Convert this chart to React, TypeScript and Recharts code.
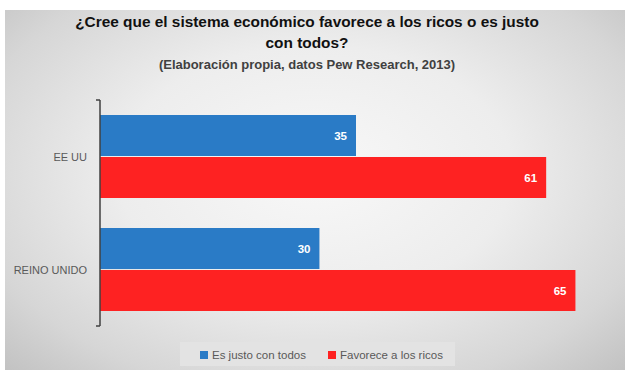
import { Bar, BarChart, LabelList, Legend, XAxis, YAxis } from "recharts";

// Pew Research 2013: opinión sobre el sistema económico
const paises = ["EE UU", "REINO UNIDO"];
const justoConTodos = [35, 30];
const favoreceRicos = [61, 65];

const BLUE = "#2a7bc6";
const RED = "#fe2222";
const FONT = "'Liberation Sans', Arial, sans-serif";

const data = paises.map((pais, i) => ({
  pais,
  justo: justoConTodos[i],
  ricos: favoreceRicos[i],
}));

// etiqueta del eje sin salto de línea
const PaisTick = ({ x, y, payload }: any) => (
  <text
    x={x}
    y={y}
    dy={4}
    textAnchor="end"
    fontSize={11}
    fill="#595959"
    fontFamily={FONT}
  >
    {payload.value}
  </text>
);

export default function App() {
  return (
    <div
      style={{
        position: "absolute",
        left: 0,
        top: 0,
        width: 625,
        height: 370,
        background: "#fff",
        fontFamily: FONT,
      }}
    >
      <div
        style={{
          position: "absolute",
          left: 5,
          top: 10,
          width: 620,
          height: 360,
          background:
            "radial-gradient(ellipse at 50% 45%, #f8f8f8 0%, #ededed 45%, #d6d6d6 80%, #c2c2c2 100%)",
        }}
      >
        <div
          style={{
            position: "absolute",
            left: 0,
            top: 1,
            width: 604,
            textAlign: "center",
            fontWeight: "bold",
            fontSize: 15.4,
            lineHeight: "21px",
            color: "#111",
          }}
        >
          ¿Cree que el sistema económico favorece a los ricos o es justo
          <br />
          con todos?
        </div>
        <div
          style={{
            position: "absolute",
            left: 0,
            top: 47,
            width: 604,
            textAlign: "center",
            fontWeight: "bold",
            fontSize: 13,
            color: "#404040",
          }}
        >
          (Elaboración propia, datos Pew Research, 2013)
        </div>
        <BarChart
          width={620}
          height={360}
          data={data}
          layout="vertical"
          margin={{ top: 90, right: 13, bottom: 20, left: 0 }}
          barCategoryGap={15}
          barGap={1}
        >
          <XAxis type="number" domain={[0, 70]} hide />
          {/* eje auxiliar: marcas en los límites de cada categoría */}
          <YAxis
            yAxisId="bordes"
            type="number"
            domain={[0, 2]}
            ticks={[0, 1, 2]}
            width={5}
            tick={() => <g />}
            tickSize={4}
            axisLine={{ stroke: "#404040", strokeWidth: 1.5 }}
            tickLine={{ stroke: "#404040", strokeWidth: 1.5 }}
          />
          <YAxis
            yAxisId="pais"
            type="category"
            dataKey="pais"
            width={90}
            axisLine={false}
            tickLine={false}
            tick={<PaisTick />}
          />
          <Bar
            yAxisId="pais"
            dataKey="justo"
            name="Es justo con todos"
            fill={BLUE}
            isAnimationActive={false}
          >
            <LabelList
              dataKey="justo"
              position="insideRight"
              offset={9}
              fill="#fff"
              fontSize={11.5}
              fontWeight="bold"
              fontFamily={FONT}
            />
          </Bar>
          <Bar
            yAxisId="pais"
            dataKey="ricos"
            name="Favorece a los ricos"
            fill={RED}
            isAnimationActive={false}
          >
            <LabelList
              dataKey="ricos"
              position="insideRight"
              offset={9}
              fill="#fff"
              fontSize={11.5}
              fontWeight="bold"
              fontFamily={FONT}
            />
          </Bar>
          <Legend
            align="left"
            iconType="square"
            iconSize={8}
            formatter={(value, _entry, i) => (
              <span
                style={{
                  color: "#595959",
                  fontSize: 11.5,
                  marginRight: i === 0 ? 12 : 0,
                }}
              >
                {value}
              </span>
            )}
            wrapperStyle={{
              left: 175,
              top: 332,
              width: 275,
              height: 24,
              lineHeight: "24px",
              paddingLeft: 20,
              boxSizing: "border-box",
              background: "#e3e3e3",
              fontFamily: FONT,
            }}
          />
        </BarChart>
      </div>
    </div>
  );
}
